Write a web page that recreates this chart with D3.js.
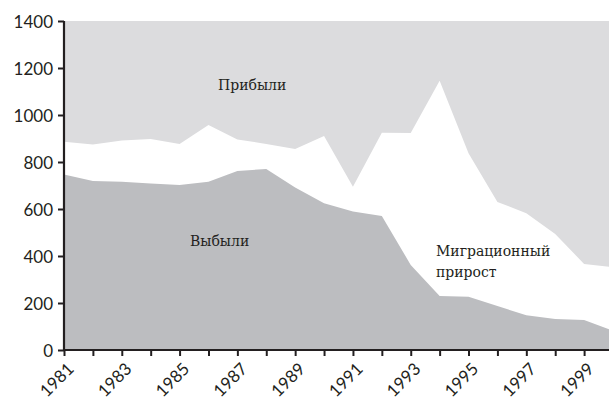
<!DOCTYPE html>
<html>
<head>
<meta charset="utf-8">
<script src="https://cdn.jsdelivr.net/npm/d3@7"></script>
<style>
  html, body { margin: 0; padding: 0; background: #fff; }
  svg { display: block; }
</style>
</head>
<body>
<svg id="chart" width="609" height="400"></svg>
<script>
// Migration: arrivals, departures by year (thousands)
const years = [1981, 1982, 1983, 1984, 1985, 1986, 1987, 1988, 1989, 1990,
               1991, 1992, 1993, 1994, 1995, 1996, 1997, 1998, 1999, 2000];
const arrivals = [886, 875, 891, 898, 877, 957, 896, 877, 855, 911,
                  695, 925, 923, 1146, 837, 630, 582, 494, 366, 352];
const departures = [747, 719, 716, 708, 702, 716, 762, 770, 692, 625,
                    589, 570, 362, 230, 227, 187, 148, 132, 128, 82];
const yTicks = [0, 200, 400, 600, 800, 1000, 1200, 1400];
const yearLabels = [1981, 1983, 1985, 1987, 1989, 1991, 1993, 1995, 1997, 1999];

const svg = d3.select("#chart");
const W = 609, H = 400;
const x = d3.scaleLinear().domain([1981, 2000]).range([64, 613]);
const y = d3.scaleLinear().domain([0, 1400]).range([350, 21]);

const rows = years.map((yr, i) => ({ yr, a: arrivals[i], d: departures[i] }));

svg.append("defs").append("clipPath").attr("id", "plot")
  .append("rect").attr("x", 64).attr("y", 0).attr("width", W - 64).attr("height", 351);

const g = svg.append("g").attr("clip-path", "url(#plot)");

// background up to the top of the scale
g.append("rect")
  .attr("x", x(1981)).attr("y", y(1400))
  .attr("width", x(2000) - x(1981)).attr("height", y(0) - y(1400))
  .attr("fill", "#dcdcde");

// area under arrivals (white = net migration gap)
g.append("path").datum(rows)
  .attr("fill", "#ffffff")
  .attr("d", d3.area().x(d => x(d.yr)).y0(y(0)).y1(d => y(d.a)));

// area under departures
g.append("path").datum(rows)
  .attr("fill", "#bcbdc0")
  .attr("d", d3.area().x(d => x(d.yr)).y0(y(0)).y1(d => y(d.d)));

const tickFont = "'Century Gothic', 'URW Gothic', 'Lato', 'DejaVu Sans', sans-serif";

// Y axis
const yAxis = svg.append("g").attr("transform", "translate(64,0)")
  .call(d3.axisLeft(y).tickValues(yTicks).tickSize(6).tickPadding(5).tickFormat(d3.format("d")));
yAxis.select(".domain").attr("stroke", "#231f20").attr("stroke-width", 2.2)
  .attr("d", `M0,${y(1400)}V${y(0) + 1}`);
yAxis.selectAll(".tick line").attr("stroke", "#231f20").attr("stroke-width", 2);
yAxis.selectAll(".tick text")
  .attr("font-family", tickFont).attr("font-size", 17)
  .attr("fill", "#231f20").attr("dy", "0.36em");

// X axis
const xAxis = svg.append("g").attr("transform", `translate(0,${y(0)})`)
  .call(d3.axisBottom(x).tickValues(years).tickSize(6).tickFormat(""));
xAxis.select(".domain").attr("stroke", "#231f20").attr("stroke-width", 2.2)
  .attr("d", `M63,0H${W}`);
xAxis.selectAll(".tick line").attr("stroke", "#231f20").attr("stroke-width", 2);

svg.append("g").selectAll("text").data(yearLabels).join("text")
  .attr("transform", d => `translate(${x(d) + 11},${y(0) + 20}) rotate(-45)`)
  .attr("text-anchor", "end")
  .attr("font-family", tickFont).attr("font-size", 17)
  .attr("fill", "#231f20")
  .text(d => d);

// series labels
const serif = "'DejaVu Serif', 'Liberation Serif', serif";
const label = (txt, lx, ly) => svg.append("text")
  .attr("x", lx).attr("y", ly)
  .attr("font-family", serif).attr("font-size", 14).attr("fill", "#231f20")
  .text(txt);
label("Прибыли", 218, 90);
label("Выбыли", 190, 246);
label("Миграционный", 436, 256);
label("прирост", 436, 277);
</script>
</body>
</html>
